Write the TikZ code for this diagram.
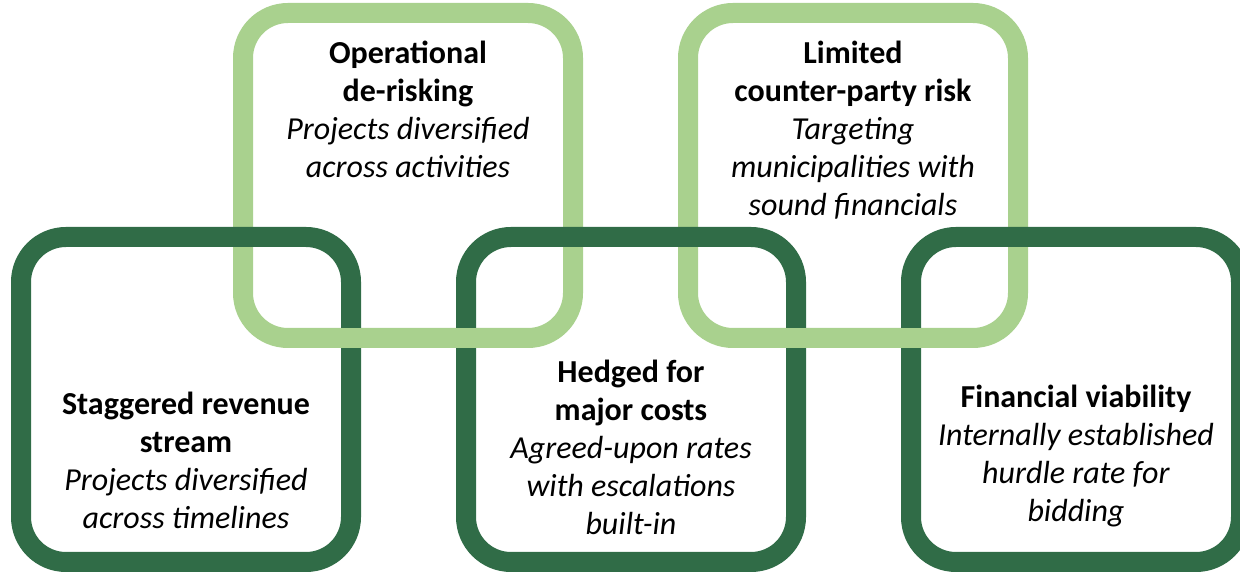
\documentclass[tikz,border=0pt]{standalone}
\usepackage{fontspec}
\setmainfont{Carlito}
\definecolor{darkgreen}{HTML}{306C47}
\definecolor{lightgreen}{HTML}{A9D18E}
\tikzset{
  ring/.style={line width=15pt, rounded corners=33.75pt},
  darkring/.style={ring, draw=darkgreen},
  lightring/.style={ring, draw=lightgreen},
  blurb/.style={anchor=north, align=center, inner sep=0pt,
                font=\fontsize{24}{28.5}\selectfont}
}

\begin{document}
\begin{tikzpicture}[x=0.75pt, y=-0.75pt]
            \useasboundingbox (0,0) rectangle (1240,573);
            \clip (0,0) rectangle (1240,573);

            % The light rings
            \draw[lightring] (243,13) rectangle (573,338);
            \draw[lightring] (688,13) rectangle (1018,338);

            % The dark rings
            \foreach \x in {21,466,911}
                \draw[darkring] (\x,237) rectangle ++(330,325);

            % Light bottoms again, so the rings link
            \foreach \x in {243,688}
                \draw[lightring] (\x+60,338) -- ++(210,0);

            % The texts
            \node[blurb] (ops) at (408,41) {\textbf{Operational}\\
                                            \textbf{de-risking}\\
                                            \textit{Projects diversified}\\
                                            \textit{across activities}};
            \node[blurb] (party) at (853,41) {\textbf{Limited}\\
                                              \textbf{counter-party risk}\\
                                              \textit{Targeting}\\
                                              \textit{municipalities with}\\
                                              \textit{sound financials}};
            \node[blurb] (stagger) at (186,392) {\textbf{Staggered revenue}\\
                                                 \textbf{stream}\\
                                                 \textit{Projects diversified}\\
                                                 \textit{across timelines}};
            \node[blurb] (hedge) at (631,360) {\textbf{Hedged for}\\
                                               \textbf{major costs}\\
                                               \textit{Agreed-upon rates}\\
                                               \textit{with escalations}\\
                                               \textit{built-in}};
            \node[blurb] (viab) at (1076,385) {\textbf{Financial viability}\\
                                               \textit{Internally established}\\
                                               \textit{hurdle rate for}\\
                                               \textit{bidding}};
        \end{tikzpicture}
\end{document}
